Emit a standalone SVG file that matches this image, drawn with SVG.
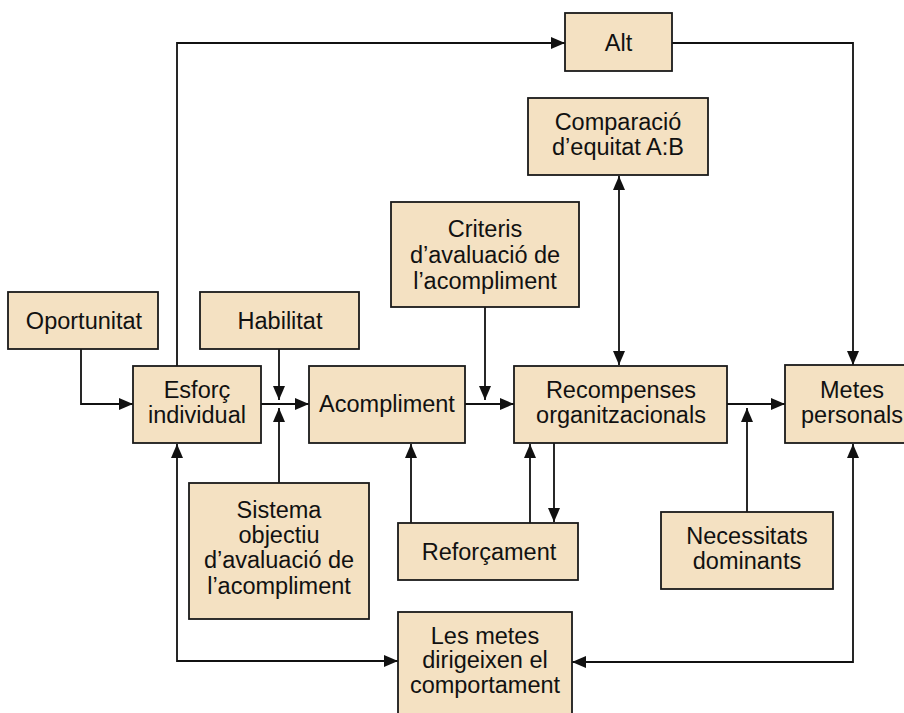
<svg xmlns="http://www.w3.org/2000/svg" width="904" height="713" viewBox="0 0 904 713">
  <style>
    .box { fill: #F4E1C2; stroke: #1a1a1a; stroke-width: 1.8; }
    .lbl { font-family: "Liberation Sans", Arial, sans-serif; font-size: 23.5px; fill: #111; text-anchor: middle; }
    .wire { fill: none; stroke: #111; stroke-width: 1.8; }
  </style>
  <defs>
    <marker id="arrow" viewBox="0 0 14 12" refX="14" refY="6" markerWidth="14" markerHeight="12" markerUnits="userSpaceOnUse" orient="auto-start-reverse">
      <path d="M0,0 L14,6 L0,12 Z" fill="#111"/>
    </marker>
  </defs>
  <rect width="904" height="713" fill="#ffffff"/>

  <g id="connectors">
    <!-- Esforç individual up and over to Alt -->
    <path class="wire" d="M177,366 V43 H565" marker-end="url(#arrow)"/>
    <!-- Alt across and down to Metes personals -->
    <path class="wire" d="M672,43 H853 V365" marker-end="url(#arrow)"/>
    <!-- Recompenses <-> Comparació d'equitat -->
    <path class="wire" d="M619,365 V176" marker-start="url(#arrow)" marker-end="url(#arrow)"/>
    <!-- Oportunitat to Esforç -->
    <path class="wire" d="M81,349 V404 H133" marker-end="url(#arrow)"/>
    <!-- Esforç to Acompliment -->
    <path class="wire" d="M261,404 H309" marker-end="url(#arrow)"/>
    <!-- Habilitat down onto the Esforç-Acompliment line -->
    <path class="wire" d="M279,349 V400" marker-end="url(#arrow)"/>
    <!-- Sistema objectiu up onto the same line -->
    <path class="wire" d="M279,483 V408" marker-end="url(#arrow)"/>
    <!-- Acompliment to Recompenses -->
    <path class="wire" d="M465,404 H514" marker-end="url(#arrow)"/>
    <!-- Criteris down onto the Acompliment-Recompenses line -->
    <path class="wire" d="M485,307 V400" marker-end="url(#arrow)"/>
    <!-- Recompenses to Metes personals -->
    <path class="wire" d="M727,404 H785" marker-end="url(#arrow)"/>
    <!-- Necessitats dominants up onto that line -->
    <path class="wire" d="M747,512 V408" marker-end="url(#arrow)"/>
    <!-- Reforçament up to Acompliment -->
    <path class="wire" d="M411,523 V444" marker-end="url(#arrow)"/>
    <!-- Reforçament up to Recompenses -->
    <path class="wire" d="M530,523 V444" marker-end="url(#arrow)"/>
    <!-- Recompenses down to Reforçament -->
    <path class="wire" d="M554,443 V522" marker-end="url(#arrow)"/>
    <!-- Les metes <-> Esforç individual -->
    <path class="wire" d="M177,444 V661 H398" marker-start="url(#arrow)" marker-end="url(#arrow)"/>
    <!-- Les metes <-> Metes personals -->
    <path class="wire" d="M572,662 H853 V444" marker-start="url(#arrow)" marker-end="url(#arrow)"/>
  </g>

  <g id="alt">
    <rect class="box" x="565" y="13" width="107" height="58"/>
    <text class="lbl" x="618.5" y="51">Alt</text>
  </g>
  <g id="comparacio">
    <rect class="box" x="528" y="98" width="180" height="77"/>
    <text class="lbl" x="618" y="130">Comparació</text>
    <text class="lbl" x="618" y="155">d’equitat A:B</text>
  </g>
  <g id="criteris">
    <rect class="box" x="391" y="202" width="188" height="105"/>
    <text class="lbl" x="485" y="237">Criteris</text>
    <text class="lbl" x="485" y="263">d’avaluació de</text>
    <text class="lbl" x="485" y="289">l’acompliment</text>
  </g>
  <g id="oportunitat">
    <rect class="box" x="8" y="292" width="150" height="57"/>
    <text class="lbl" x="84" y="329">Oportunitat</text>
  </g>
  <g id="habilitat">
    <rect class="box" x="200" y="292" width="159" height="57"/>
    <text class="lbl" x="280" y="329">Habilitat</text>
  </g>
  <g id="esforc">
    <rect class="box" x="133" y="366" width="128" height="77"/>
    <text class="lbl" x="197" y="398">Esforç</text>
    <text class="lbl" x="197" y="423">individual</text>
  </g>
  <g id="acompliment">
    <rect class="box" x="309" y="366" width="156" height="77"/>
    <text class="lbl" x="387" y="412">Acompliment</text>
  </g>
  <g id="recompenses">
    <rect class="box" x="514" y="366" width="213" height="77"/>
    <text class="lbl" x="621" y="398">Recompenses</text>
    <text class="lbl" x="621" y="423">organitzacionals</text>
  </g>
  <g id="metes-personals">
    <rect class="box" x="785" y="365" width="130" height="78"/>
    <text class="lbl" x="852" y="398">Metes</text>
    <text class="lbl" x="852" y="423">personals</text>
  </g>
  <g id="sistema">
    <rect class="box" x="189" y="483" width="180" height="136"/>
    <text class="lbl" x="279" y="518">Sistema</text>
    <text class="lbl" x="279" y="543">objectiu</text>
    <text class="lbl" x="279" y="568">d’avaluació de</text>
    <text class="lbl" x="279" y="594">l’acompliment</text>
  </g>
  <g id="reforcament">
    <rect class="box" x="398" y="523" width="180" height="57"/>
    <text class="lbl" x="489" y="560">Reforçament</text>
  </g>
  <g id="necessitats">
    <rect class="box" x="661" y="512" width="172" height="77"/>
    <text class="lbl" x="747" y="544">Necessitats</text>
    <text class="lbl" x="747" y="569">dominants</text>
  </g>
  <g id="les-metes">
    <rect class="box" x="398" y="612" width="174" height="110"/>
    <text class="lbl" x="485" y="644">Les metes</text>
    <text class="lbl" x="485" y="668">dirigeixen el</text>
    <text class="lbl" x="485" y="693">comportament</text>
  </g>
</svg>
